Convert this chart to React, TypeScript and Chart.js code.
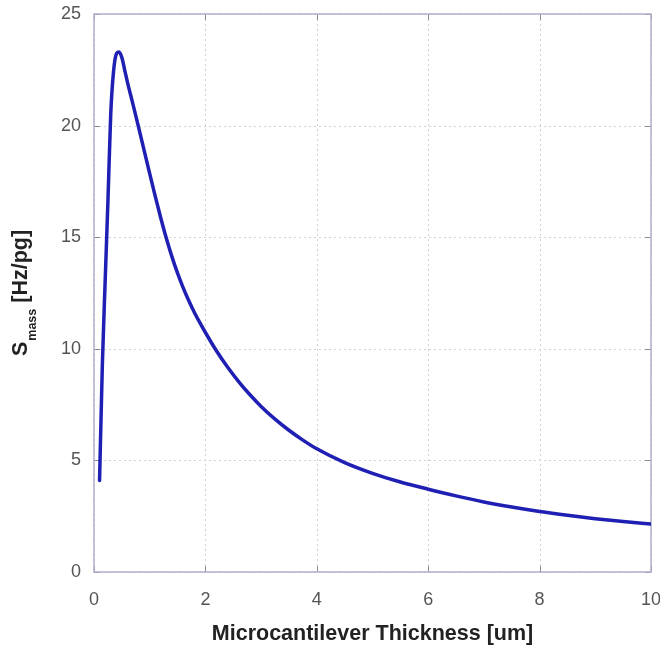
import React, { useEffect, useRef } from 'react';
import { Chart, registerables } from 'chart.js';

Chart.register(...registerables);

const thickness = [0.1, 0.15, 0.2, 0.25, 0.3, 0.35, 0.4, 0.45, 0.5, 0.55, 0.6, 0.7, 0.8, 0.9, 1.0, 1.1, 1.2, 1.3, 1.4, 1.5, 1.6, 1.7, 1.8, 1.9, 2.0, 2.2, 2.4, 2.6, 2.8, 3.0, 3.25, 3.5, 3.75, 4.0, 4.5, 5.0, 5.5, 6.0, 6.5, 7.0, 7.5, 8.0, 8.5, 9.0, 9.5, 10];
const sensitivity = [4.1, 9.3, 13.0, 16.6, 20.5, 22.4, 23.2, 23.3, 23.05, 22.5, 21.95, 20.95, 19.93, 18.89, 17.85, 16.83, 15.85, 14.94, 14.12, 13.39, 12.74, 12.16, 11.64, 11.17, 10.73, 9.9, 9.17, 8.52, 7.94, 7.42, 6.85, 6.35, 5.91, 5.52, 4.9, 4.42, 4.03, 3.71, 3.41, 3.14, 2.91, 2.71, 2.54, 2.39, 2.26, 2.15];
const xTickValues = [0, 2, 4, 6, 8, 10];
const yTickValues = [0, 5, 10, 15, 20, 25];
const xTitle = 'Microcantilever Thickness [um]';
const yTitleMain = 'S';
const yTitleSub = 'mass';
const yTitleUnit = ' [Hz/pg]';

const FONT = '"Liberation Sans", Arial, Helvetica, sans-serif';

export default function App() {
  const ref = useRef<HTMLCanvasElement>(null);

  useEffect(() => {
    document.body.style.margin = '0';
    const canvas = ref.current;
    if (!canvas) return;

    const framePlugin = {
      id: 'frameGrid',
      beforeDatasetsDraw(chart: any) {
        const { ctx, chartArea: a, scales } = chart;
        const xs = scales.x;
        const ys = scales.y;
        ctx.save();
        ctx.strokeStyle = '#d2d2d2';
        ctx.lineWidth = 1;
        ctx.setLineDash([2, 3]);
        xTickValues.forEach((v) => {
          const px = Math.round(xs.getPixelForValue(v)) + 0.5;
          ctx.beginPath();
          ctx.moveTo(px, a.top);
          ctx.lineTo(px, a.bottom);
          ctx.stroke();
        });
        yTickValues.forEach((v) => {
          const py = Math.round(ys.getPixelForValue(v)) + 0.5;
          ctx.beginPath();
          ctx.moveTo(a.left, py);
          ctx.lineTo(a.right, py);
          ctx.stroke();
        });
        ctx.setLineDash([]);
        ctx.strokeStyle = '#8a8a9a';
        xTickValues.forEach((v) => {
          const px = Math.round(xs.getPixelForValue(v)) + 0.5;
          ctx.beginPath();
          ctx.moveTo(px, a.bottom);
          ctx.lineTo(px, a.bottom - 6);
          ctx.moveTo(px, a.top);
          ctx.lineTo(px, a.top + 6);
          ctx.stroke();
        });
        yTickValues.forEach((v) => {
          const py = Math.round(ys.getPixelForValue(v)) + 0.5;
          ctx.beginPath();
          ctx.moveTo(a.left, py);
          ctx.lineTo(a.left + 6, py);
          ctx.moveTo(a.right, py);
          ctx.lineTo(a.right - 6, py);
          ctx.stroke();
        });
        ctx.strokeStyle = '#b0b0cc';
        ctx.lineWidth = 1.5;
        ctx.strokeRect(a.left, a.top, a.right - a.left, a.bottom - a.top);
        ctx.restore();
      },
      afterDraw(chart: any) {
        const { ctx, chartArea: a } = chart;
        ctx.save();
        ctx.fillStyle = '#222';
        ctx.font = `bold 21.5px ${FONT}`;
        ctx.textAlign = 'center';
        ctx.textBaseline = 'middle';
        ctx.fillText(xTitle, (a.left + a.right) / 2, a.bottom + 62);

        const mainFont = `bold 21.5px ${FONT}`;
        const subFont = `bold 12.5px ${FONT}`;
        ctx.font = mainFont;
        const wS = ctx.measureText(yTitleMain).width;
        const wU = ctx.measureText(yTitleUnit).width;
        ctx.font = subFont;
        const wSub = ctx.measureText(yTitleSub).width + 1;
        const total = wS + wSub + wU;
        ctx.translate(27, (a.top + a.bottom) / 2);
        ctx.rotate(-Math.PI / 2);
        ctx.textAlign = 'left';
        ctx.textBaseline = 'alphabetic';
        const start = -total / 2;
        ctx.font = mainFont;
        ctx.fillText(yTitleMain, start, 0);
        ctx.font = subFont;
        ctx.fillText(yTitleSub, start + wS + 1, 9);
        ctx.font = mainFont;
        ctx.fillText(yTitleUnit, start + wS + wSub, 0);
        ctx.restore();
      },
    };

    const chart = new Chart(canvas, {
      type: 'line',
      data: {
        datasets: [
          {
            data: thickness.map((x, i) => ({ x, y: sensitivity[i] })),
            borderColor: '#1f1fb4',
            borderWidth: 3.5,
            pointRadius: 0,
            fill: false,
            cubicInterpolationMode: 'monotone',
            borderCapStyle: 'round',
            borderJoinStyle: 'round',
          } as any,
        ],
      },
      options: {
        animation: false,
        responsive: false,
        maintainAspectRatio: false,
        layout: { padding: { top: 14, right: 9, left: 0, bottom: 0 } },
        plugins: { legend: { display: false }, tooltip: { enabled: false }, title: { display: false } },
        scales: {
          x: {
            type: 'linear',
            min: 0,
            max: 10,
            afterBuildTicks: (s: any) => {
              s.ticks = xTickValues.map((v) => ({ value: v }));
            },
            afterFit: (s: any) => {
              s.height = 78;
              s.paddingLeft = 0;
              s.paddingRight = 0;
            },
            ticks: {
              font: { family: FONT, size: 18 },
              color: '#555',
              padding: 17,
              maxRotation: 0,
            },
            grid: { display: false, drawTicks: false },
            border: { display: false },
          },
          y: {
            type: 'linear',
            min: 0,
            max: 25,
            afterBuildTicks: (s: any) => {
              s.ticks = yTickValues.map((v) => ({ value: v }));
            },
            afterFit: (s: any) => {
              s.width = 94;
              s.paddingTop = 0;
              s.paddingBottom = 0;
            },
            ticks: {
              font: { family: FONT, size: 18 },
              color: '#555',
              padding: 13,
            },
            grid: { display: false, drawTicks: false },
            border: { display: false },
          },
        },
      },
      plugins: [framePlugin],
    });

    return () => chart.destroy();
  }, []);

  return (
    <div style={{ width: 660, height: 650, background: '#fff' }}>
      <canvas ref={ref} width={660} height={650} style={{ display: 'block', width: 660, height: 650 }} />
    </div>
  );
}
